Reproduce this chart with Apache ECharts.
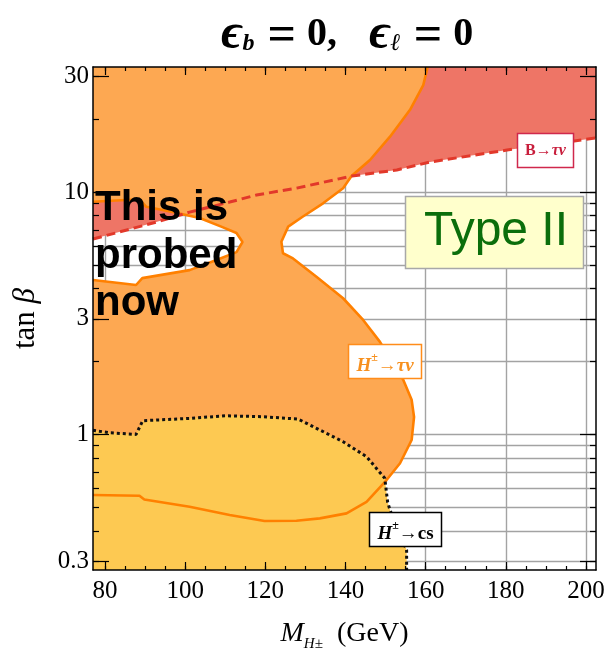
<!DOCTYPE html>
<html>
<head>
<meta charset="utf-8">
<script src="https://cdn.jsdelivr.net/npm/echarts@6/dist/echarts.min.js"></script>
<style>
  html, body { margin: 0; padding: 0; background: #fff; }
  #main { width: 605px; height: 651px; }
</style>
</head>
<body>
<div id="main"></div>
<script>
// plot range: charged Higgs mass (GeV) and tan(beta)
const massMin = 77, massMax = 202.5;
const tanbMin = 0.2755, tanbMax = 32.9;
const massMajor = [80, 100, 120, 140, 160, 180, 200];
const massMinor = [80, 85, 90, 95, 100, 105, 110, 115, 120, 125, 130, 135, 140, 145, 150, 155, 160, 165, 170, 175, 180, 185, 190, 195, 200];
const tanbMajor = [0.3, 1, 3, 10, 30];
const tanbMinor = [0.3, 0.4, 0.5, 0.6, 0.7, 0.8, 0.9, 1, 2, 3, 4, 5, 6, 7, 8, 9, 10, 20, 30];

// B -> tau nu bound (dashed), excluded above it
const btaunuEdge = [[77, 6.41], [92.8, 7.53], [101.1, 8.28], [111.1, 9.11], [117.8, 9.74], [127.8, 10.4],
  [141.6, 11.67], [152.8, 12.36], [161.1, 13.33], [180.3, 14.94], [202.5, 16.75]];

// H+ -> tau nu excluded region, outer edge from the top frame round to the left frame
const taunuOuter = [[160.5, 32.9], [159.4, 27.7], [156.1, 21.9], [151.1, 16.96], [146.1, 13.59], [141.5, 11.67],
  [139.4, 10.38], [134.4, 9.0], [129.3, 7.92], [125.7, 7.21], [124.0, 6.25], [124.4, 5.6], [126.9, 5.33],
  [132.75, 4.48], [139.4, 3.65], [144.4, 2.97], [148.6, 2.41], [154.4, 1.68], [156.5, 1.39], [157.1, 1.18],
  [156.5, 0.948], [153.6, 0.76], [150.25, 0.648], [145.25, 0.527], [140.25, 0.472], [133.6, 0.45],
  [127.75, 0.44], [119.8, 0.439], [111.1, 0.465], [101.1, 0.503], [89.8, 0.539], [88.6, 0.558], [77, 0.562]];

// allowed notch inside the H+ -> tau nu region, open to the left frame
const taunuHole = [[77, 4.34], [87.75, 4.14], [89.3, 4.42], [101.1, 4.77], [107.8, 5.25], [112.8, 5.66],
  [114.3, 6.23], [112.8, 6.79], [109.3, 7.18], [103.6, 7.83], [96.8, 8.29], [90.3, 8.71], [88.6, 9.35], [77, 9.14]];

// H+ -> cs bound (dotted), excluded below it
const csEdge = [[77, 1.04], [81.1, 1.016], [87.75, 1.0], [89.4, 1.139], [101.1, 1.165], [110.25, 1.194],
  [119.4, 1.183], [128.15, 1.157], [132.75, 1.06], [139.4, 0.933], [145.25, 0.809], [149.8, 0.659],
  [150.5, 0.527], [151.1, 0.487], [155.25, 0.333], [155.25, 0.2755]];

const lg = p => [p[0], Math.log10(p[1])];
const logs = arr => arr.map(v => Math.log10(v));
const serif = 'Liberation Serif';

const redArea = btaunuEdge.concat([[massMax, tanbMax], [massMin, tanbMax]]);
const orangeArea = [[massMin, tanbMax]].concat(taunuOuter, taunuHole);
const yellowArea = csEdge.concat([[massMin, tanbMin]]);

function area(pts, color, z) {
  return {
    type: 'custom', z: z, silent: true,
    data: [[massMin, 0]],
    renderItem: function (params, api) {
      return {
        type: 'polygon',
        shape: { points: pts.map(p => api.coord(lg(p))) },
        style: { fill: color }
      };
    }
  };
}

function edge(pts, color, width, type, z) {
  return {
    type: 'line', z: z, silent: true, symbol: 'none',
    data: pts.map(lg),
    lineStyle: { color: color, width: width, type: type, cap: 'butt' }
  };
}

function xAx(pos, ticks, len, opts) {
  return Object.assign({
    type: 'value', min: massMin, max: massMax, position: pos, z: 10,
    axisLine: { show: false, onZero: false },
    axisTick: { show: true, inside: true, length: len, customValues: ticks, lineStyle: { color: '#000', width: 1.2 } },
    axisLabel: { show: false },
    splitLine: { show: false }
  }, opts || {});
}

function yAx(pos, ticks, len, opts) {
  return Object.assign({
    type: 'value', min: Math.log10(tanbMin), max: Math.log10(tanbMax), position: pos, z: 10,
    axisLine: { show: false, onZero: false },
    axisTick: { show: true, inside: true, length: len, customValues: logs(ticks), lineStyle: { color: '#000', width: 1.2 } },
    axisLabel: { show: false },
    splitLine: { show: false }
  }, opts || {});
}

const frame = { show: true, onZero: false, lineStyle: { color: '#000', width: 1.5 } };
const gridLine = { show: true, lineStyle: { color: '#a3a3a3', width: 1.4 } };

const myChart = echarts.init(document.getElementById('main'));
myChart.setOption({
  animation: false,
  title: {
    text: '{e|ϵ}{s|b}{q|=}{z|0,}{g| }{e|ϵ}{s|ℓ}{q|=}{z|0}',
    left: 216, top: 5,
    textStyle: {
      rich: {
        e: { fontFamily: serif, fontSize: 50, fontWeight: 'bold', fontStyle: 'italic', color: '#000', lineHeight: 46, verticalAlign: 'top' },
        s: { fontFamily: serif, fontSize: 24, fontWeight: 'bold', fontStyle: 'italic', color: '#000', lineHeight: 24, padding: [22, 2, 0, 0], verticalAlign: 'top' },
        q: { fontFamily: serif, fontSize: 50, fontWeight: 'bold', color: '#000', lineHeight: 44, padding: [2, 11, 0, 11], verticalAlign: 'top' },
        z: { fontFamily: serif, fontSize: 40, fontWeight: 'bold', color: '#000', lineHeight: 40, padding: [5, 0, 0, 0], verticalAlign: 'top' },
        g: { fontSize: 38, lineHeight: 40, width: 32 }
      }
    }
  },
  grid: { left: 93, right: 9, top: 67, bottom: 81, containLabel: false, outerBoundsMode: 'none' },
  xAxis: [
    xAx('bottom', massMajor, 8, {
      axisLine: frame,
      axisLabel: { show: true, customValues: massMajor, margin: 9, fontFamily: serif, fontSize: 25, color: '#000' },
      name: '{m|M}{s|H±}{g|  (GeV)}',
      nameLocation: 'middle', nameGap: 50,
      nameTextStyle: {
        rich: {
          m: { fontFamily: serif, fontSize: 28, fontStyle: 'italic', color: '#000', lineHeight: 30, verticalAlign: 'top' },
          s: { fontFamily: serif, fontSize: 15, fontStyle: 'italic', color: '#000', lineHeight: 16, padding: [17, 0, 0, 0], verticalAlign: 'top' },
          g: { fontFamily: serif, fontSize: 28, color: '#000', lineHeight: 30, verticalAlign: 'top' }
        }
      }
    }),
    xAx('bottom', massMinor, 4),
    xAx('top', massMajor, 8, { axisLine: frame }),
    xAx('top', massMinor, 4),
    xAx('bottom', massMajor, 0, { z: 0, axisTick: { show: false, customValues: massMajor }, splitLine: gridLine })
  ],
  yAxis: [
    yAx('left', tanbMajor, 16, {
      axisLine: frame,
      axisLabel: {
        show: true, customValues: logs(tanbMajor), margin: 4, fontFamily: serif, fontSize: 25, color: '#000',
        formatter: function (v) {
          const t = Math.pow(10, v);
          return t < 1 ? t.toFixed(1) : String(Math.round(t));
        }
      },
      name: '{t|tan}{b| β}',
      nameLocation: 'middle', nameGap: 52, nameRotate: 90,
      nameTextStyle: {
        rich: {
          t: { fontFamily: serif, fontSize: 31, color: '#000' },
          b: { fontFamily: serif, fontSize: 31, fontStyle: 'italic', color: '#000' }
        }
      }
    }),
    yAx('left', tanbMinor, 6),
    yAx('right', tanbMajor, 16, { axisLine: frame }),
    yAx('right', tanbMinor, 6),
    yAx('left', tanbMinor, 0, { z: 0, axisTick: { show: false, customValues: logs(tanbMinor) }, splitLine: gridLine })
  ],
  series: [
    area(redArea, '#EE7566', 2),
    area(orangeArea, '#FDA852', 3),
    area(yellowArea, '#FDC952', 4),
    edge(taunuOuter, '#FF8000', 2.6, 'solid', 5),
    edge(taunuHole, '#FF8000', 2.6, 'solid', 5),
    edge(btaunuEdge, '#E2382A', 3, [9, 5], 6),
    edge(csEdge, '#111', 3, [3, 3], 7)
  ],
  graphic: [
    {
      type: 'text', x: 95, y: 185, z: 100,
      style: { text: 'This is\nprobed\nnow', fontFamily: 'Liberation Sans', fontSize: 42, fontWeight: 'bold', fill: '#000', lineHeight: 47.5 }
    },
    {
      type: 'rect', z: 100, shape: { x: 405.5, y: 196.5, width: 178, height: 72 },
      style: { fill: '#FFFFCC', stroke: '#A8A8A8', lineWidth: 1.5 }
    },
    {
      type: 'text', x: 496, y: 232, z: 101,
      style: { text: 'Type II', fontFamily: 'Liberation Sans', fontSize: 48, fill: '#0B6E0B', align: 'center', verticalAlign: 'middle' }
    },
    {
      type: 'rect', z: 100, shape: { x: 517.5, y: 133.5, width: 56, height: 34 },
      style: { fill: '#fff', stroke: '#D0284C', lineWidth: 1.5 }
    },
    {
      type: 'text', x: 545.5, y: 150.5, z: 101,
      style: {
        text: '{b|B→}{g|τν}', align: 'center', verticalAlign: 'middle',
        rich: {
          b: { fontFamily: serif, fontSize: 16, fontWeight: 'bold', fill: '#C81E3C' },
          g: { fontFamily: serif, fontSize: 16, fontWeight: 'bold', fontStyle: 'italic', fill: '#C81E3C' }
        }
      }
    },
    {
      type: 'rect', z: 100, shape: { x: 348.5, y: 344.5, width: 73, height: 34 },
      style: { fill: '#fff', stroke: '#FF8C1A', lineWidth: 1.5 }
    },
    {
      type: 'text', x: 385, y: 362, z: 101,
      style: {
        text: '{h|H}{p|±}{a|→τν}', align: 'center', verticalAlign: 'middle',
        rich: {
          h: { fontFamily: serif, fontSize: 19, fontWeight: 'bold', fontStyle: 'italic', fill: '#F7901E', lineHeight: 20, padding: [5, 0, 0, 0], verticalAlign: 'top' },
          p: { fontFamily: serif, fontSize: 12, fontWeight: 'bold', fill: '#F7901E', lineHeight: 12, verticalAlign: 'top' },
          a: { fontFamily: serif, fontSize: 19, fontWeight: 'bold', fontStyle: 'italic', fill: '#F7901E', lineHeight: 20, padding: [5, 0, 0, 0], verticalAlign: 'top' }
        }
      }
    },
    {
      type: 'rect', z: 100, shape: { x: 369.5, y: 512.5, width: 72, height: 34 },
      style: { fill: '#fff', stroke: '#000', lineWidth: 1.5 }
    },
    {
      type: 'text', x: 405.5, y: 530, z: 101,
      style: {
        text: '{h|H}{p|±}{a|→}{c|cs}', align: 'center', verticalAlign: 'middle',
        rich: {
          h: { fontFamily: serif, fontSize: 19, fontWeight: 'bold', fontStyle: 'italic', fill: '#000', lineHeight: 20, padding: [5, 0, 0, 0], verticalAlign: 'top' },
          p: { fontFamily: serif, fontSize: 12, fontWeight: 'bold', fill: '#000', lineHeight: 12, verticalAlign: 'top' },
          a: { fontFamily: serif, fontSize: 19, fontWeight: 'bold', fill: '#000', lineHeight: 20, padding: [5, 0, 0, 0], verticalAlign: 'top' },
          c: { fontFamily: serif, fontSize: 19, fontWeight: 'bold', fill: '#000', lineHeight: 20, padding: [5, 0, 0, 0], verticalAlign: 'top' }
        }
      }
    }
  ]
});
</script>
</body>
</html>
